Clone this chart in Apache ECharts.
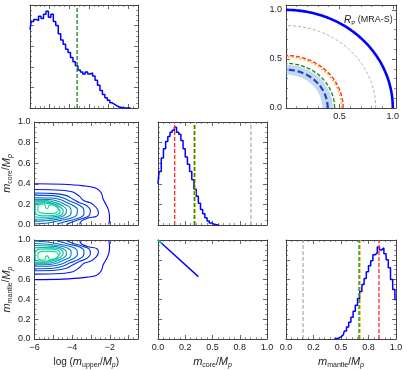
<!DOCTYPE html>
<html>
<head>
<meta charset="utf-8">
<script src="https://cdn.jsdelivr.net/npm/echarts@6/dist/echarts.min.js"></script>
<style>
  html, body { margin: 0; padding: 0; background: #fff; }
  #chart { width: 407px; height: 370px; }
</style>
</head>
<body>
<div id="chart"></div>
<script>
// ---- data ----
// log(m_upper/Mp) histogram (bin centres, normalised height)
var upperBins = [-6.0,-5.875,-5.75,-5.625,-5.5,-5.375,-5.25,-5.125,-5.0,-4.875,-4.75,-4.625,-4.5,-4.375,-4.25,-4.125,-4.0,-3.875,-3.75,-3.625,-3.5,-3.375,-3.25,-3.125,-3.0,-2.875,-2.75,-2.625,-2.5,-2.375,-2.25,-2.125,-2.0,-1.875,-1.75,-1.625,-1.5,-1.375,-1.25,-1.125,-1.0,-0.875];
var upperHist = [0.76,0.84,0.86,0.85,0.89,0.87,0.91,0.94,0.88,0.91,0.84,0.80,0.72,0.66,0.62,0.57,0.54,0.49,0.45,0.41,0.37,0.35,0.33,0.35,0.33,0.34,0.31,0.27,0.22,0.17,0.13,0.10,0.075,0.05,0.035,0.02,0.01,0.004,0.002,0.001,0,0];
var upperMark = -3.6;

// m_core/Mp histogram
var coreBins = [0.00,0.02,0.04,0.06,0.08,0.10,0.12,0.14,0.16,0.18,0.20,0.22,0.24,0.26,0.28,0.30,0.32,0.34,0.36,0.38,0.40,0.42,0.44,0.46,0.48,0.50,0.52,0.54,0.56];
var coreHist = [0.40,0.52,0.65,0.74,0.81,0.86,0.90,0.92,0.95,0.90,0.88,0.82,0.74,0.66,0.59,0.52,0.44,0.35,0.28,0.21,0.15,0.11,0.07,0.04,0.02,0.01,0.004,0.001,0];
var coreMarks = [0.153, 0.333, 0.342, 0.853];   // red, green, orange, grey

// m_mantle/Mp histogram
var mantleBins = [0.44,0.46,0.48,0.50,0.52,0.54,0.56,0.58,0.60,0.62,0.64,0.66,0.68,0.70,0.72,0.74,0.76,0.78,0.80,0.82,0.84,0.86,0.88,0.90,0.92,0.94,0.96,0.98,1.00];
var mantleHist = [0,0.004,0.01,0.02,0.04,0.08,0.12,0.17,0.22,0.28,0.34,0.41,0.48,0.55,0.61,0.68,0.74,0.79,0.85,0.87,0.93,0.90,0.92,0.86,0.80,0.72,0.60,0.50,0.40];
var mantleMarks = [0.845, 0.664, 0.674, 0.155]; // red, green, orange, grey

// radius panel: quarter circles and shaded band
var ringRadii = [1.0, 0.84, 0.535, 0.52, 0.455, 0.39];
var bandRadii = [0.34, 0.44];

// core vs mantle relation
var diagLine = [[0, 1.0], [0.37, 0.63]];
var diagTip = [[0, 1.0], [0.035, 0.965]];

// contours: log(m_upper) vs m_core, outermost first
var coreContours = [
  [[-6,0.40],[-4.5,0.395],[-3.4,0.38],[-2.7,0.355],[-2.45,0.31],[-2.35,0.25],[-2.2,0.2],[-2.06,0.14],[-2.01,0.07],[-2.05,0.005]],
  [[-6,0.345],[-4.6,0.338],[-3.96,0.32],[-3.62,0.28],[-3.37,0.235],[-3.03,0.215],[-2.72,0.17],[-2.6,0.12],[-2.7,0.085],[-3.1,0.07],[-3.5,0.04],[-3.6,0.005]],
  [[-6,0.31],[-4.9,0.305],[-4.3,0.285],[-3.95,0.25],[-3.6,0.215],[-3.25,0.19],[-3.03,0.14],[-3.1,0.09],[-3.5,0.06],[-4.0,0.03],[-4.3,0.005]],
  [[-6,0.29],[-5.0,0.285],[-4.5,0.265],[-4.1,0.23],[-3.7,0.2],[-3.4,0.16],[-3.37,0.11],[-3.6,0.07],[-4.2,0.04],[-4.8,0.01]],
  [[-6,0.265],[-5.1,0.262],[-4.6,0.245],[-4.25,0.215],[-3.95,0.19],[-3.72,0.15],[-3.75,0.1],[-4.0,0.07],[-4.6,0.045],[-5.3,0.02],[-6,0.01]],
  [[-6,0.25],[-5.2,0.248],[-4.75,0.23],[-4.4,0.2],[-4.1,0.17],[-4.05,0.12],[-4.25,0.08],[-4.8,0.055],[-5.5,0.04],[-6,0.035]],
  [[-6,0.235],[-5.3,0.235],[-4.85,0.215],[-4.5,0.185],[-4.3,0.15],[-4.35,0.105],[-4.65,0.075],[-5.3,0.06],[-6,0.055]],
  [[-6,0.225],[-5.4,0.225],[-4.95,0.205],[-4.6,0.17],[-4.47,0.135],[-4.6,0.095],[-5.0,0.08],[-5.6,0.075],[-6,0.08]],
  [[-5.95,0.21],[-5.5,0.215],[-5.05,0.2],[-4.75,0.165],[-4.64,0.13],[-4.8,0.1],[-5.3,0.09],[-5.8,0.095],[-5.97,0.14],[-5.95,0.21]],
  [[-5.8,0.19],[-5.6,0.205],[-5.45,0.195],[-5.4,0.165],[-5.3,0.16],[-5.2,0.195],[-4.95,0.195],[-4.73,0.16],[-4.85,0.12],[-5.2,0.112],[-5.6,0.115],[-5.82,0.14],[-5.8,0.19]]
];
// contours: log(m_upper) vs m_mantle, outermost first
var mantleContours = [
  [[-6,0.60],[-4.5,0.605],[-3.4,0.62],[-2.7,0.645],[-2.45,0.69],[-2.35,0.75],[-2.2,0.8],[-2.06,0.86],[-2.01,0.93],[-2.05,0.995]],
  [[-6,0.655],[-4.6,0.662],[-3.96,0.68],[-3.62,0.72],[-3.37,0.765],[-3.03,0.785],[-2.72,0.83],[-2.6,0.88],[-2.7,0.915],[-3.1,0.93],[-3.5,0.96],[-3.6,0.995]],
  [[-6,0.69],[-4.9,0.695],[-4.3,0.715],[-3.95,0.75],[-3.6,0.785],[-3.25,0.81],[-3.03,0.86],[-3.1,0.91],[-3.5,0.94],[-4.0,0.97],[-4.3,0.995]],
  [[-6,0.71],[-5.0,0.715],[-4.5,0.735],[-4.1,0.77],[-3.7,0.8],[-3.4,0.84],[-3.37,0.89],[-3.6,0.93],[-4.2,0.96],[-4.8,0.99]],
  [[-6,0.735],[-5.1,0.738],[-4.6,0.755],[-4.25,0.785],[-3.95,0.81],[-3.72,0.85],[-3.75,0.9],[-4.0,0.93],[-4.6,0.955],[-5.3,0.98],[-6,0.99]],
  [[-6,0.75],[-5.2,0.752],[-4.75,0.77],[-4.4,0.8],[-4.1,0.83],[-4.05,0.88],[-4.25,0.92],[-4.8,0.945],[-5.5,0.96],[-6,0.965]],
  [[-6,0.765],[-5.3,0.765],[-4.85,0.785],[-4.5,0.815],[-4.3,0.85],[-4.35,0.895],[-4.65,0.925],[-5.3,0.94],[-6,0.945]],
  [[-6,0.775],[-5.4,0.775],[-4.95,0.795],[-4.6,0.83],[-4.47,0.865],[-4.6,0.905],[-5.0,0.92],[-5.6,0.925],[-6,0.92]],
  [[-5.95,0.79],[-5.5,0.785],[-5.05,0.8],[-4.75,0.835],[-4.64,0.87],[-4.8,0.9],[-5.3,0.91],[-5.8,0.905],[-5.97,0.86],[-5.95,0.79]],
  [[-5.8,0.81],[-5.6,0.795],[-5.45,0.805],[-5.4,0.835],[-5.3,0.84],[-5.2,0.805],[-4.95,0.805],[-4.73,0.84],[-4.85,0.88],[-5.2,0.888],[-5.6,0.885],[-5.82,0.86],[-5.8,0.81]]
];

// tick labels
var upperTicks = [-6, -4, -2];
var upperTickLabels = ['\u22126', '\u22124', '\u22122'];
var fracTicks = [0, 0.25, 0.5, 0.75, 1.0];
var fracTickLabels = ['0.0', '0.2', '0.5', '0.8', '1.0'];
var yTicks = [0, 0.2, 0.4, 0.6, 0.8, 1.0];
var yTickLabels = ['0.0', '0.2', '0.4', '0.6', '0.8', '1.0'];
var radYTicks = [0, 0.5, 1.0];
var radYTickLabels = ['0.0', '0.5', '1.0'];
var radXTicks = [0.5, 1.0];
var radXTickLabels = ['0.5', '1.0'];

// ---- styling ----
var FONT = '"Liberation Sans", Arial, sans-serif';
var INK = '#222';
var FRAME = '#444';
var BLUE = '#0000ff';
var contourColors = ['#0000ff','#001af2','#0033e6','#004dd9','#0066cc','#0080bf','#0099b3','#00b3a6','#00cc99','#00e08f'];
var markColors = ['#ff2a2a', '#118811', '#ffb700', '#999999'];

var nameRich = {
  n: { fontFamily: FONT, fontSize: 10, color: INK, lineHeight: 14 },
  i: { fontFamily: FONT, fontSize: 11, fontStyle: 'italic', color: INK, lineHeight: 14 },
  s: { fontFamily: FONT, fontSize: 7, color: INK, lineHeight: 7, verticalAlign: 'bottom' },
  si: { fontFamily: FONT, fontSize: 7, fontStyle: 'italic', color: INK, lineHeight: 7, verticalAlign: 'bottom' }
};

function labeler(ticks, labels) {
  return function (v) {
    for (var k = 0; k < ticks.length; k++) {
      if (Math.abs(ticks[k] - v) < 1e-6) return labels[k];
    }
    return '';
  };
}

var grids = [
  { left: 30,  top: 5,   width: 108, height: 103 },  // 0 upper hist
  { left: 286, top: 5,   width: 110, height: 103 },  // 1 radius
  { left: 30,  top: 122, width: 108, height: 103 },  // 2 upper vs core
  { left: 158, top: 122, width: 109, height: 103 },  // 3 core hist
  { left: 30,  top: 240, width: 108, height: 103 },  // 4 upper vs mantle
  { left: 158, top: 240, width: 109, height: 103 },  // 5 core vs mantle
  { left: 286, top: 240, width: 110, height: 103 }   // 6 mantle hist
];

var xAxes = [], yAxes = [];

function oneAxis(g, o, pos, primary, isY) {
  return {
    type: 'value', gridIndex: g, position: pos,
    min: o.min, max: o.max, interval: o.interval,
    axisLine: { show: true, onZero: false, lineStyle: { color: FRAME, width: 1 } },
    axisTick: { show: true, inside: true, length: 4, lineStyle: { color: FRAME, width: 0.8 } },
    minorTick: { show: true, splitNumber: o.minor, length: 2, lineStyle: { color: FRAME, width: 0.6 } },
    splitLine: { show: false },
    minorSplitLine: { show: false },
    axisLabel: {
      show: primary && !!o.fmt, formatter: o.fmt, margin: 4,
      fontSize: 9, color: INK, fontFamily: FONT, showMaxLabel: true
    },
    name: primary && o.name ? o.name : '',
    nameLocation: 'middle',
    nameGap: o.gap || 15,
    nameRotate: isY ? 90 : 0,
    nameTextStyle: { rich: nameRich }
  };
}

function addPanel(g, xo, yo) {
  var xi = xAxes.length, yi = yAxes.length;
  xAxes.push(oneAxis(g, xo, 'bottom', true, false));
  xAxes.push(oneAxis(g, xo, 'top', false, false));
  yAxes.push(oneAxis(g, yo, 'left', true, true));
  yAxes.push(oneAxis(g, yo, 'right', false, true));
  return { x: xi, y: yi };
}

var coreName = '{i|m}{s|core}{n|/}{i|M}{si|p}';
var mantleName = '{i|m}{s|mantle}{n|/}{i|M}{si|p}';
var upperName = '{n|log (}{i|m}{s|upper}{n|/}{i|M}{si|p}{n|)}';

var pUpper  = addPanel(0, { min: -6, max: -0.5, interval: 1, minor: 4 }, { min: 0, max: 1, interval: 0.2, minor: 4 });
var pRad    = addPanel(1, { min: 0, max: 1.03, interval: 0.5, minor: 5, fmt: labeler(radXTicks, radXTickLabels) },
                          { min: 0, max: 1.05, interval: 0.5, minor: 5, fmt: labeler(radYTicks, radYTickLabels) });
var pUC     = addPanel(2, { min: -6, max: -0.5, interval: 1, minor: 4 },
                          { min: 0, max: 1, interval: 0.2, minor: 4, fmt: labeler(yTicks, yTickLabels), name: coreName, gap: 21 });
var pCore   = addPanel(3, { min: 0, max: 1, interval: 0.25, minor: 5 }, { min: 0, max: 1, interval: 0.2, minor: 4 });
var pUM     = addPanel(4, { min: -6, max: -0.5, interval: 1, minor: 4, fmt: labeler(upperTicks, upperTickLabels), name: upperName, gap: 16 },
                          { min: 0, max: 1, interval: 0.2, minor: 4, fmt: labeler(yTicks, yTickLabels), name: mantleName, gap: 21 });
var pCM     = addPanel(5, { min: 0, max: 1, interval: 0.25, minor: 5, fmt: labeler(fracTicks, fracTickLabels), name: coreName, gap: 16 },
                          { min: 0, max: 1, interval: 0.2, minor: 4 });
var pMantle = addPanel(6, { min: 0, max: 1, interval: 0.25, minor: 5, fmt: labeler(fracTicks, fracTickLabels), name: mantleName, gap: 16 },
                          { min: 0, max: 1, interval: 0.2, minor: 4 });

function zip(a, b) {
  var out = [];
  for (var k = 0; k < a.length; k++) out.push([a[k], b[k]]);
  return out;
}

var series = [];

function histSeries(p, bins, vals) {
  series.push({
    type: 'line', xAxisIndex: p.x, yAxisIndex: p.y, data: zip(bins, vals),
    step: 'middle', symbol: 'none', z: 3,
    lineStyle: { color: BLUE, width: 1.5 }
  });
}

function vline(p, x, color, width) {
  series.push({
    type: 'line', xAxisIndex: p.x, yAxisIndex: p.y, data: [[x, 0], [x, 1]],
    symbol: 'none', z: 4,
    lineStyle: { color: color, width: width || 1.3, type: [4, 2] }
  });
}

// top-left histogram
histSeries(pUpper, upperBins, upperHist);
vline(pUpper, upperMark, markColors[1]);

// core histogram
histSeries(pCore, coreBins, coreHist);
vline(pCore, coreMarks[3], markColors[3], 1);
vline(pCore, coreMarks[2], markColors[2]);
vline(pCore, coreMarks[1], markColors[1]);
vline(pCore, coreMarks[0], markColors[0]);

// mantle histogram
histSeries(pMantle, mantleBins, mantleHist);
vline(pMantle, mantleMarks[3], markColors[3], 1);
vline(pMantle, mantleMarks[2], markColors[2]);
vline(pMantle, mantleMarks[1], markColors[1]);
vline(pMantle, mantleMarks[0], markColors[0]);

// contours
function contourSet(p, sets) {
  sets.forEach(function (c, k) {
    series.push({
      type: 'line', xAxisIndex: p.x, yAxisIndex: p.y, data: c,
      symbol: 'none', smooth: 0.35, z: 3,
      lineStyle: { color: contourColors[k], width: 1.1 }
    });
  });
}
contourSet(pUC, coreContours);
contourSet(pUM, mantleContours);

// core vs mantle line
series.push({
  type: 'line', xAxisIndex: pCM.x, yAxisIndex: pCM.y, data: diagLine,
  symbol: 'none', lineStyle: { color: BLUE, width: 1.4 }
});
series.push({
  type: 'line', xAxisIndex: pCM.x, yAxisIndex: pCM.y, data: diagTip,
  symbol: 'none', z: 4, lineStyle: { color: '#00c8a0', width: 1.6 }
});

// radius panel
var ringStyles = [
  { stroke: BLUE, lineWidth: 2.6, lineDash: null },
  { stroke: '#999999', lineWidth: 0.8, lineDash: [3, 2] },
  { stroke: '#ff2a2a', lineWidth: 1.4, lineDash: [4, 2] },
  { stroke: '#ffb700', lineWidth: 1.4, lineDash: [2, 2] },
  { stroke: '#118811', lineWidth: 1.3, lineDash: [4, 2] },
  { stroke: '#1f3fd6', lineWidth: 2.2, lineDash: [6, 3] }
];

function arcPoints(api, r) {
  var pts = [];
  for (var k = 0; k <= 90; k++) {
    var a = k / 90 * Math.PI / 2;
    pts.push(api.coord([r * Math.cos(a), r * Math.sin(a)]));
  }
  return pts;
}

series.push({
  type: 'custom', coordinateSystem: 'cartesian2d', xAxisIndex: pRad.x, yAxisIndex: pRad.y,
  data: [bandRadii], z: 1,
  renderItem: function (params, api) {
    var outer = arcPoints(api, api.value(1));
    var inner = arcPoints(api, api.value(0)).reverse();
    return {
      type: 'polygon', shape: { points: outer.concat(inner) },
      style: { fill: 'rgba(120,170,220,0.45)', stroke: 'none' }
    };
  }
});

ringRadii.forEach(function (r, k) {
  var st = ringStyles[k];
  series.push({
    type: 'custom', coordinateSystem: 'cartesian2d', xAxisIndex: pRad.x, yAxisIndex: pRad.y,
    data: [[r, 0]], z: 3 + k,
    renderItem: function (params, api) {
      return {
        type: 'polyline', shape: { points: arcPoints(api, api.value(0)) },
        style: { fill: 'none', stroke: st.stroke, lineWidth: st.lineWidth, lineDash: st.lineDash }
      };
    }
  });
});

var chart = echarts.init(document.getElementById('chart'), null, { renderer: 'canvas' });
chart.setOption({
  animation: false,
  backgroundColor: '#ffffff',
  title: {
    text: '{i|R}{s|P}{n| (MRA-S)}',
    left: 339, top: 9,
    textStyle: {
      fontWeight: 'normal',
      rich: {
        i: { fontFamily: FONT, fontSize: 10, fontStyle: 'italic', fontWeight: 'normal', color: INK, lineHeight: 12 },
        s: { fontFamily: FONT, fontSize: 6, fontWeight: 'normal', color: INK, lineHeight: 6, verticalAlign: 'bottom' },
        n: { fontFamily: FONT, fontSize: 9, fontWeight: 'normal', color: INK, lineHeight: 12 }
      }
    }
  },
  grid: grids,
  xAxis: xAxes,
  yAxis: yAxes,
  series: series
});
</script>
</body>
</html>
